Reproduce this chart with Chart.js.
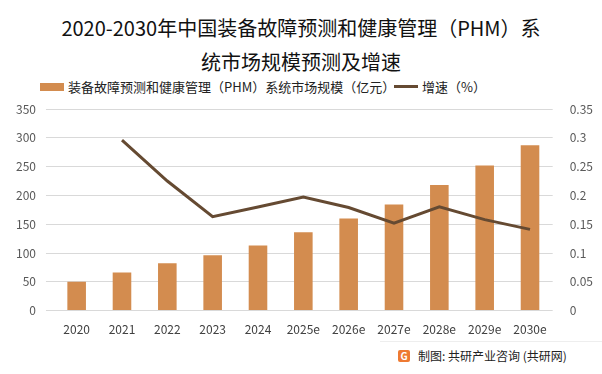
<!DOCTYPE html>
<html>
<head>
<meta charset="utf-8">
<script src="https://cdn.jsdelivr.net/npm/chart.js@4"></script>
<style>
  body { margin: 0; width: 602px; height: 374px; background: #fff; overflow: hidden;
    font-family: "Noto Sans CJK SC", "Noto Sans", sans-serif; position: relative; }
  #title { position: absolute; top: 11px; left: 0; width: 602px; text-align: center;
    font-size: 20px; line-height: 34px; color: #111; }
  #legend { position: absolute; top: 77px; left: 0; width: 602px; font-size: 13px; color: #222; }
  .item { position: absolute; top: 0; display: flex; align-items: center; white-space: nowrap; }
  .swatch { display: inline-block; margin-right: 4px; }
  #footer { position: absolute; top: 347px; left: 398px; font-size: 12px; color: #222;
    display: flex; align-items: center; }
  #logo { width: 12px; height: 12px; background: #ee7a32; border-radius: 2px; margin-right: 8px;
    color: #fff; font-size: 10px; line-height: 12px; text-align: center; font-weight: bold; }
  #rule { position: absolute; top: 341px; left: 380px; width: 222px; height: 1px; background: #eee; }
  canvas { position: absolute; top: 0; left: 0; }
</style>
</head>
<body>
<div id="title">2020-2030年中国装备故障预测和健康管理（PHM）系<br>统市场规模预测及增速</div>
<div id="legend">
  <div class="item" style="left:40px"><span class="swatch" style="width:24px;height:8px;background:#d38c4f"></span>装备故障预测和健康管理（PHM）系统市场规模（亿元）</div>
  <div class="item" style="left:394px"><span class="swatch" style="width:24px;height:3px;background:#654a32"></span>增速（%）</div>
</div>
<div id="rule"></div>
<div id="footer"><div id="logo">G</div>制图: 共研产业咨询 (共研网)</div>
<canvas id="chart" width="602" height="374"></canvas>
<script>
const years = ["2020", "2021", "2022", "2023", "2024", "2025e", "2026e", "2027e", "2028e", "2029e", "2030e"];
const marketSize = [50, 66, 82, 96, 113, 136, 160, 184, 218, 252, 287];
const growthRate = [null, 0.296, 0.225, 0.163, 0.18, 0.197, 0.179, 0.152, 0.18, 0.158, 0.141];

const tickFont = { family: "Noto Sans CJK SC", size: 12 };

new Chart(document.getElementById("chart"), {
  data: {
    labels: years,
    datasets: [
      {
        type: "line",
        label: "增速（%）",
        data: growthRate,
        yAxisID: "y1",
        borderColor: "#654a32",
        borderWidth: 3,
        pointRadius: 0,
        tension: 0,
        order: 0,
      },
      {
        type: "bar",
        label: "装备故障预测和健康管理（PHM）系统市场规模（亿元）",
        data: marketSize,
        yAxisID: "y",
        backgroundColor: "#d38c4f",
        barPercentage: 0.41,
        categoryPercentage: 1,
        order: 1,
      },
    ],
  },
  options: {
    responsive: false,
    animation: false,
    layout: { padding: { top: 109, left: 6, right: 0, bottom: 33 } },
    plugins: { legend: { display: false }, title: { display: false }, tooltip: { enabled: false } },
    scales: {
      x: {
        grid: { display: false },
        border: { display: false },
        ticks: { color: "#404040", font: tickFont, maxRotation: 0, padding: 4 },
      },
      y: {
        position: "left",
        min: 0,
        max: 350,
        ticks: { stepSize: 50, color: "#595959", font: tickFont, padding: 10 },
        grid: { color: "#d9d9d9" },
        border: { display: false },
      },
      y1: {
        position: "right",
        min: 0,
        max: 0.35,
        ticks: { stepSize: 0.05, color: "#595959", font: tickFont, padding: 9,
          callback: (v) => Math.round(v * 100) / 100 },
        grid: { display: false },
        border: { display: false },
      },
    },
  },
});
</script>
</body>
</html>
